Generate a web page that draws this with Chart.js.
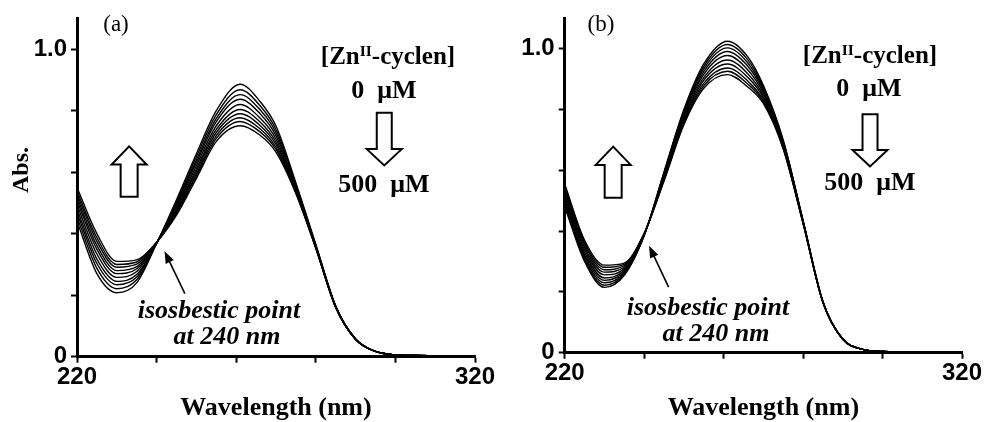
<!DOCTYPE html>
<html>
<head>
<meta charset="utf-8">
<script src="https://cdn.jsdelivr.net/npm/chart.js@4.4.0/dist/chart.umd.min.js"></script>
<style>
  body { margin: 0; background: #fff; }
  #wrap { position: relative; width: 994px; height: 422px; overflow: hidden; background: #fff; }
  canvas { position: absolute; top: 0; }
  #chartA { left: 0; }
  #chartB { left: 497px; }
  .lbl {
    position: absolute; color: #000; white-space: pre; line-height: 0;
    font-family: "Liberation Serif", "Times New Roman", serif; font-weight: bold;
    transform: translateX(-50%);
  }
  .lbl sup { font-size: 0.62em; position: relative; top: -0.5em; vertical-align: baseline; line-height: 0; }
  .it { font-style: italic; }
  .panel { font-weight: normal; font-size: 23px; }
  .abs { position: absolute; font-family: "Liberation Serif", serif; font-weight: bold; font-size: 24px;
    line-height: 1; transform: translate(-50%, -50%) rotate(-90deg); }
</style>
</head>
<body>
<div id="wrap">
  <canvas id="chartA" width="497" height="422"></canvas>
  <canvas id="chartB" width="497" height="422"></canvas>

  <div class="abs" style="left:20px; top:170px;">Abs.</div>

  <div class="lbl panel" style="left:116px; top:24px;">(a)</div>
  <div class="lbl" style="left:388px; top:56px; font-size:25px;">[Zn<sup>II</sup>-cyclen]</div>
  <div class="lbl" style="left:384px; top:90px; font-size:26px;">0  μM</div>
  <div class="lbl" style="left:384px; top:184px; font-size:26px;">500  μM</div>
  <div class="lbl it" style="left:219px; top:310px; font-size:26px;">isosbestic point</div>
  <div class="lbl it" style="left:227px; top:336px; font-size:26px;">at 240 nm</div>

  <div class="lbl panel" style="left:601px; top:24px;">(b)</div>
  <div class="lbl" style="left:870px; top:55px; font-size:25px;">[Zn<sup>II</sup>-cyclen]</div>
  <div class="lbl" style="left:869px; top:88px; font-size:26px;">0  μM</div>
  <div class="lbl" style="left:870px; top:182px; font-size:26px;">500  μM</div>
  <div class="lbl it" style="left:708px; top:307px; font-size:26px;">isosbestic point</div>
  <div class="lbl it" style="left:716px; top:333px; font-size:26px;">at 240 nm</div>
</div>

<script>
// wavelength grid (nm)
const wavelengths = [220, 225, 230, 235, 240, 245, 250, 255, 261, 266, 270, 275, 280, 285, 290, 295, 300, 305, 310, 315, 320];

// [Zn-cyclen] titration steps, 0 -> 500 uM
const concentrations = ['0', '50', '100', '150', '200', '250', '300', '350', '400', '500'];

// panel (a) absorbance spectra, one row per concentration
const spectraA = [
  [0.440, 0.270, 0.208, 0.240, 0.368, 0.510, 0.660, 0.800, 0.886, 0.830, 0.750, 0.565, 0.365, 0.165, 0.058, 0.017, 0.006, 0.004, 0.003, 0.002, 0.002],
  [0.454, 0.287, 0.221, 0.250, 0.369, 0.504, 0.650, 0.787, 0.868, 0.816, 0.739, 0.560, 0.363, 0.164, 0.058, 0.017, 0.006, 0.004, 0.003, 0.002, 0.002],
  [0.468, 0.303, 0.234, 0.259, 0.369, 0.498, 0.640, 0.775, 0.852, 0.803, 0.729, 0.556, 0.362, 0.164, 0.058, 0.017, 0.006, 0.004, 0.003, 0.002, 0.002],
  [0.480, 0.317, 0.245, 0.267, 0.369, 0.492, 0.631, 0.764, 0.837, 0.790, 0.719, 0.552, 0.360, 0.163, 0.057, 0.017, 0.006, 0.004, 0.003, 0.002, 0.002],
  [0.494, 0.334, 0.258, 0.277, 0.370, 0.486, 0.621, 0.751, 0.820, 0.776, 0.708, 0.548, 0.359, 0.163, 0.057, 0.017, 0.006, 0.004, 0.003, 0.002, 0.002],
  [0.507, 0.349, 0.270, 0.286, 0.370, 0.480, 0.611, 0.739, 0.804, 0.763, 0.698, 0.544, 0.357, 0.162, 0.057, 0.017, 0.006, 0.004, 0.003, 0.002, 0.002],
  [0.518, 0.362, 0.280, 0.293, 0.371, 0.475, 0.603, 0.729, 0.790, 0.752, 0.690, 0.540, 0.356, 0.161, 0.057, 0.017, 0.006, 0.004, 0.003, 0.002, 0.002],
  [0.529, 0.375, 0.291, 0.301, 0.371, 0.470, 0.595, 0.719, 0.777, 0.741, 0.681, 0.537, 0.354, 0.161, 0.056, 0.017, 0.006, 0.004, 0.003, 0.002, 0.002],
  [0.539, 0.387, 0.300, 0.308, 0.372, 0.465, 0.588, 0.710, 0.765, 0.731, 0.674, 0.534, 0.353, 0.160, 0.056, 0.017, 0.006, 0.004, 0.003, 0.002, 0.002],
  [0.550, 0.400, 0.310, 0.315, 0.372, 0.460, 0.580, 0.700, 0.751, 0.720, 0.665, 0.530, 0.352, 0.160, 0.056, 0.017, 0.006, 0.004, 0.003, 0.002, 0.002]
];

// panel (b) absorbance spectra
const spectraB = [
  [0.480, 0.300, 0.215, 0.255, 0.385, 0.595, 0.800, 0.950, 1.025, 0.975, 0.880, 0.700, 0.435, 0.168, 0.045, 0.011, 0.004, 0.003, 0.002, 0.002, 0.001],
  [0.488, 0.307, 0.222, 0.259, 0.386, 0.592, 0.795, 0.942, 1.014, 0.965, 0.874, 0.697, 0.434, 0.168, 0.045, 0.011, 0.004, 0.003, 0.002, 0.002, 0.001],
  [0.495, 0.314, 0.230, 0.263, 0.387, 0.589, 0.790, 0.934, 1.003, 0.955, 0.868, 0.694, 0.433, 0.167, 0.045, 0.011, 0.004, 0.003, 0.002, 0.002, 0.001],
  [0.503, 0.322, 0.238, 0.267, 0.388, 0.586, 0.785, 0.925, 0.991, 0.944, 0.861, 0.691, 0.432, 0.167, 0.045, 0.011, 0.004, 0.003, 0.002, 0.002, 0.001],
  [0.512, 0.330, 0.246, 0.272, 0.388, 0.582, 0.779, 0.916, 0.978, 0.932, 0.854, 0.687, 0.431, 0.167, 0.045, 0.011, 0.004, 0.003, 0.002, 0.002, 0.001],
  [0.522, 0.339, 0.256, 0.277, 0.389, 0.578, 0.772, 0.905, 0.963, 0.919, 0.846, 0.683, 0.429, 0.166, 0.044, 0.011, 0.004, 0.003, 0.002, 0.002, 0.001],
  [0.531, 0.348, 0.265, 0.282, 0.390, 0.575, 0.766, 0.896, 0.950, 0.907, 0.839, 0.680, 0.428, 0.166, 0.044, 0.011, 0.004, 0.003, 0.002, 0.002, 0.001],
  [0.540, 0.356, 0.273, 0.287, 0.391, 0.571, 0.760, 0.886, 0.937, 0.895, 0.832, 0.676, 0.427, 0.165, 0.044, 0.011, 0.004, 0.003, 0.002, 0.002, 0.001],
  [0.548, 0.363, 0.281, 0.291, 0.392, 0.568, 0.755, 0.878, 0.926, 0.885, 0.826, 0.673, 0.426, 0.165, 0.044, 0.011, 0.004, 0.003, 0.002, 0.002, 0.001],
  [0.555, 0.370, 0.288, 0.295, 0.393, 0.565, 0.750, 0.870, 0.915, 0.875, 0.820, 0.670, 0.425, 0.165, 0.044, 0.011, 0.004, 0.003, 0.002, 0.002, 0.001]
];

const xTickLabels = [220, 320];
const yTickLabels = ['0', '1.0'];

// hollow block arrows and the pointer to the isosbestic point, in data units
const marksA = {
  blocks: [
    { x: 297.2, tail: 0.793, neck: 0.675, tip: 0.622, shaft: 7.5 },
    { x: 233.1, tail: 0.520, neck: 0.625, tip: 0.684, shaft: 8.5 }
  ],
  pointer: { from: [247.1, 0.205], to: [242.0, 0.343] }
};
const marksB = {
  blocks: [
    { x: 296.85, tail: 0.785, neck: 0.667, tip: 0.613, shaft: 7.5 },
    { x: 232.2, tail: 0.510, neck: 0.618, tip: 0.678, shaft: 8.5 }
  ],
  pointer: { from: [246.15, 0.216], to: [241.23, 0.352] }
};

const marksPlugin = {
  id: 'marks',
  afterDatasetsDraw(chart, args, opts) {
    const {ctx} = chart;
    const x = chart.scales.x, y = chart.scales.y;
    ctx.save();
    ctx.strokeStyle = '#000';
    ctx.lineWidth = 2;
    ctx.lineJoin = 'miter';
    opts.blocks.forEach(b => {
      const cx = x.getPixelForValue(b.x);
      const y0 = y.getPixelForValue(b.tail);
      const y1 = y.getPixelForValue(b.neck);
      const y2 = y.getPixelForValue(b.tip);
      const hw = 17.5;
      ctx.beginPath();
      ctx.moveTo(cx - b.shaft, y0);
      ctx.lineTo(cx - b.shaft, y1);
      ctx.lineTo(cx - hw, y1);
      ctx.lineTo(cx, y2);
      ctx.lineTo(cx + hw, y1);
      ctx.lineTo(cx + b.shaft, y1);
      ctx.lineTo(cx + b.shaft, y0);
      ctx.closePath();
      ctx.fillStyle = '#fff';
      ctx.fill();
      ctx.stroke();
    });
    const p = opts.pointer;
    const x0 = x.getPixelForValue(p.from[0]), py0 = y.getPixelForValue(p.from[1]);
    const x1 = x.getPixelForValue(p.to[0]), py1 = y.getPixelForValue(p.to[1]);
    const ang = Math.atan2(py1 - py0, x1 - x0);
    const len = 12, half = 4.5;
    ctx.lineWidth = 1.6;
    ctx.beginPath();
    ctx.moveTo(x0, py0);
    ctx.lineTo(x1 - Math.cos(ang) * len * 0.8, py1 - Math.sin(ang) * len * 0.8);
    ctx.stroke();
    ctx.beginPath();
    ctx.moveTo(x1, py1);
    ctx.lineTo(x1 - Math.cos(ang) * len - Math.sin(ang) * half, py1 - Math.sin(ang) * len + Math.cos(ang) * half);
    ctx.lineTo(x1 - Math.cos(ang) * len + Math.sin(ang) * half, py1 - Math.sin(ang) * len - Math.cos(ang) * half);
    ctx.closePath();
    ctx.fillStyle = '#000';
    ctx.fill();
    ctx.restore();
  }
};

function makeChart(id, spectra, marks, box) {
  const datasets = spectra.map((row, i) => ({
    label: concentrations[i] + ' uM',
    data: row.map((v, j) => ({x: wavelengths[j], y: v})),
    borderColor: '#000',
    borderWidth: 1.4,
    pointRadius: 0,
    fill: false,
    cubicInterpolationMode: 'monotone'
  }));

  return new Chart(document.getElementById(id), {
    type: 'line',
    data: {datasets: datasets},
    plugins: [marksPlugin],
    options: {
      responsive: false,
      animation: false,
      layout: {padding: {top: box.top, right: box.right, left: 0, bottom: 0}},
      plugins: {
        legend: {display: false},
        tooltip: {enabled: false},
        marks: marks
      },
      scales: {
        x: {
          type: 'linear',
          min: 220,
          max: 320,
          afterFit: s => { s.height = box.xHeight; },
          border: {display: true, color: '#000', width: 3},
          grid: {drawOnChartArea: false, drawTicks: true, tickLength: 6, tickWidth: 2, tickColor: '#000'},
          ticks: {
            stepSize: 20,
            autoSkip: false,
            maxRotation: 0,
            padding: 0,
            color: '#000',
            font: {family: 'Liberation Sans', weight: 'bold', size: 24},
            callback: v => xTickLabels.includes(v) ? String(v) : ''
          },
          title: {
            display: true,
            text: 'Wavelength (nm)',
            color: '#000',
            font: {family: 'Liberation Serif', weight: 'bold', size: 26, lineHeight: 1},
            padding: {top: 0, bottom: 1}
          }
        },
        y: {
          min: 0,
          max: 1.1,
          afterFit: s => { s.width = box.yWidth; },
          border: {display: true, color: '#000', width: 3},
          grid: {drawOnChartArea: false, drawTicks: true, tickLength: 6, tickWidth: 2, tickColor: '#000'},
          ticks: {
            stepSize: 0.2,
            includeBounds: false,
            padding: 4,
            color: '#000',
            font: {family: 'Liberation Sans', weight: 'bold', size: 24},
            callback: v => v === 0 ? yTickLabels[0] : (Math.abs(v - 1) < 1e-6 ? yTickLabels[1] : '')
          }
        }
      }
    }
  });
}

makeChart('chartA', spectraA, marksA, {top: 14.6, right: 22, yWidth: 77, xHeight: 65.3});
makeChart('chartB', spectraB, marksB, {top: 12.4, right: 32, yWidth: 67.7, xHeight: 69.3});
</script>
</body>
</html>
